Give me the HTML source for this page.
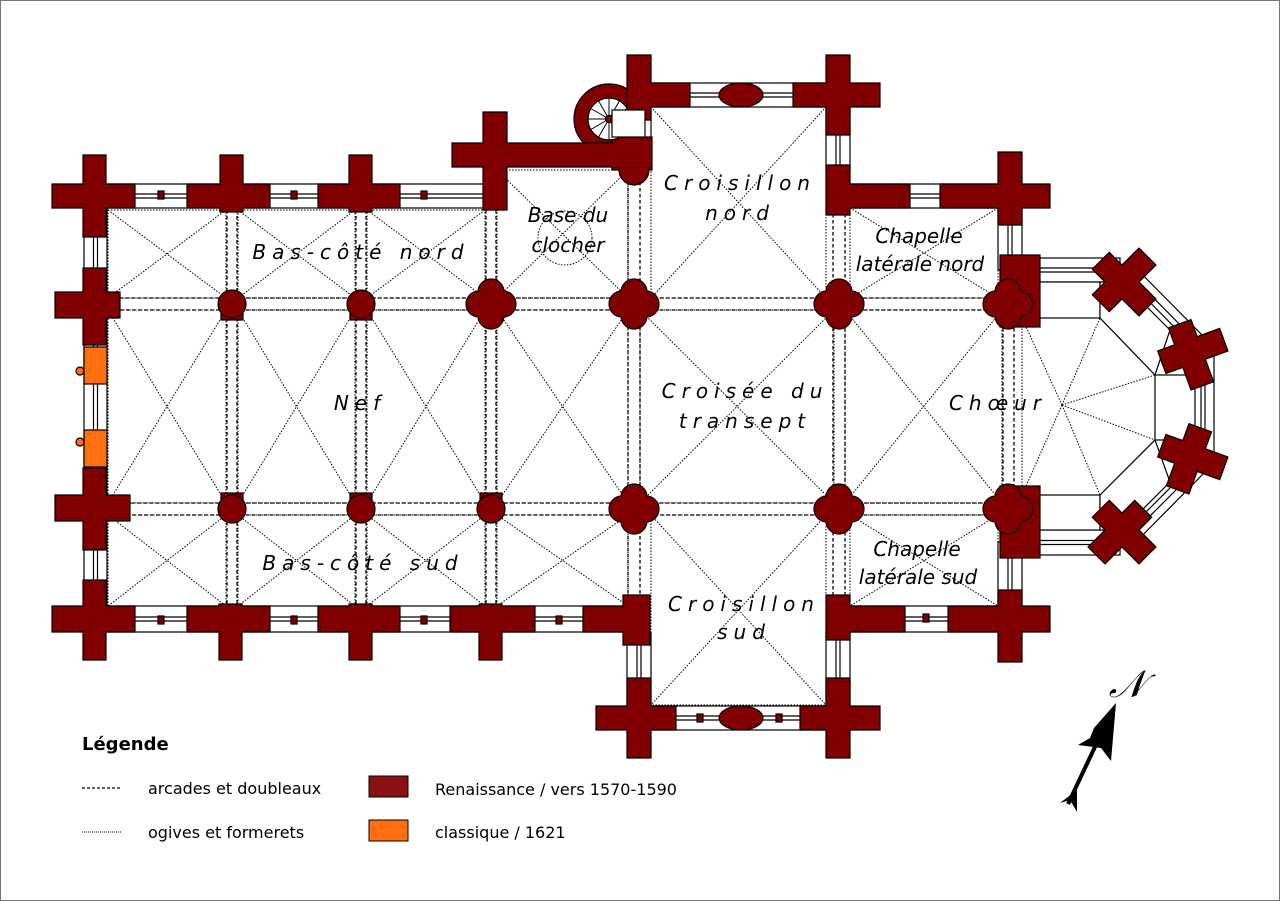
<!DOCTYPE html>
<html><head><meta charset="utf-8"><style>
html,body{margin:0;padding:0;background:#fff}
svg{display:block}
.lbl{font-family:"DejaVu Sans","Liberation Sans",sans-serif;font-style:italic;font-size:20px;fill:#000;text-anchor:middle}
.sp{letter-spacing:6px}
.lg{font-family:"DejaVu Sans","Liberation Sans",sans-serif;font-size:16px;fill:#000}
</style></head><body>
<svg id="s" width="1280" height="901" viewBox="0 0 1280 901" xmlns="http://www.w3.org/2000/svg">
<rect x="0.5" y="0.5" width="1279" height="900" fill="#fff" stroke="#777"/>
<g id="walls" fill="#fff" stroke="#000" stroke-width="1.2"></g>
<g id="vaults" fill="none" stroke="#000"></g>
<g id="piers" stroke="#000" stroke-width="1.2"></g>
<g id="extra"></g>
<g>
<text class="lbl sp" x="361" y="259">Bas-côté nord</text>
<text class="lbl sp" x="360" y="410">Nef</text>
<text class="lbl sp" x="363" y="570">Bas-côté sud</text>
<text class="lbl" x="568" y="222">Base du</text>
<text class="lbl" x="568" y="252">clocher</text>
<text class="lbl sp" x="740" y="190">Croisillon</text>
<text class="lbl sp" x="740" y="220">nord</text>
<text class="lbl" x="919" y="243">Chapelle</text>
<text class="lbl" x="920" y="271">latérale nord</text>
<text class="lbl sp" x="745" y="398">Croisée du</text>
<text class="lbl sp" x="745" y="428">transept</text>
<text class="lbl sp" x="998" y="410">Chœur</text>
<text class="lbl" x="917" y="556">Chapelle</text>
<text class="lbl" x="918" y="584">latérale sud</text>
<text class="lbl sp" x="744" y="611">Croisillon</text>
<text class="lbl sp" x="744" y="639">sud</text>
</g>
<g>
<text x="82" y="750" font-family="DejaVu Sans, Liberation Sans, sans-serif" font-weight="bold" font-size="18">Légende</text>
<line x1="82" y1="788" x2="121" y2="788" stroke="#000" stroke-width="1.2" stroke-dasharray="3 2"/>
<line x1="82" y1="832" x2="121" y2="832" stroke="#000" stroke-width="1" stroke-dasharray="1 1"/>
<text class="lg" x="148" y="794">arcades et doubleaux</text>
<text class="lg" x="148" y="838">ogives et formerets</text>
<rect x="369" y="776" width="39" height="21" fill="#8b1111" stroke="#000"/>
<rect x="369" y="820" width="39" height="21" fill="#ff6f0f" stroke="#000"/>
<text class="lg" x="435" y="795">Renaissance / vers 1570-1590</text>
<text class="lg" x="435" y="838">classique / 1621</text>
</g>
<g>
<text x="1127" y="697" font-family="Liberation Serif, serif" font-style="italic" font-size="38" text-anchor="middle">𝒩</text>
<line x1="1068" y1="804" x2="1110" y2="715" stroke="#000" stroke-width="4"/>
<polygon points="1116,703 1111,761 1101,748 1078,745 1090,738 1094,728" fill="#000"/>
<polygon points="1060,803 1077,790 1077,812 1070,800" fill="#000"/>
</g>
</svg>
<script>
var NS="http://www.w3.org/2000/svg";
function el(p,t,a){var e=document.createElementNS(NS,t);for(var k in a)e.setAttribute(k,a[k]);document.getElementById(p).appendChild(e);return e;}
var M="#800000";
function hband(x1,x2,y1,y2){el("walls","rect",{x:x1,y:y1,width:x2-x1,height:y2-y1});var m=(y1+y2)/2;el("walls","line",{x1:x1,x2:x2,y1:m-2,y2:m-2});el("walls","line",{x1:x1,x2:x2,y1:m+2,y2:m+2});}
function vband(x1,x2,y1,y2){el("walls","rect",{x:x1,y:y1,width:x2-x1,height:y2-y1});var m=(x1+x2)/2;el("walls","line",{x1:m-2,x2:m-2,y1:y1,y2:y2});el("walls","line",{x1:m+2,x2:m+2,y1:y1,y2:y2});}
hband(94,494,184,208);vband(84,107,195,620);hband(94,634,606,632);
vband(627,651,95,140);vband(826,850,95,170);hband(638,837,83,107);
vband(627,651,632,718);vband(826,850,632,718);hband(638,837,706,730);
hband(838,1010,184,208);vband(998,1022,195,270);
hband(838,1010,606,632);vband(998,1022,542,620);
hband(1010,1120,258,282);hband(1010,1120,530,555);
el("walls","polygon",{points:"1130,262 1205,338 1190,352 1115,277"});
el("walls","line",{x1:1124,y1:268,x2:1199,y2:344});el("walls","line",{x1:1120,y1:272,x2:1195,y2:348});
vband(1192,1214,350,460);
el("walls","polygon",{points:"1115,533 1190,458 1205,472 1130,548"});
el("walls","line",{x1:1120,y1:538,x2:1195,y2:463});el("walls","line",{x1:1124,y1:542,x2:1199,y2:467});
el("walls","rect",{x:1038,y:282,width:62,height:36});
el("walls","rect",{x:1038,y:495,width:62,height:35});
el("walls","polygon",{points:"1100,282 1122,282 1170,330 1155,375 1100,318"});
el("walls","polygon",{points:"1100,530 1122,530 1170,482 1155,440 1100,495"});
el("walls","rect",{x:1155,y:375,width:40,height:65});
var dot={"stroke-width":1,"stroke-dasharray":"1.5 1.5"};
var dash={"stroke-width":1.3,"stroke-dasharray":"3.5 2.5"};
function L(x1,y1,x2,y2,s){var a={x1:x1,y1:y1,x2:x2,y2:y2};for(var k in s)a[k]=s[k];el("vaults","line",a);}
function bay(x1,y1,x2,y2){L(x1,y1,x2,y2,dot);L(x2,y1,x1,y2,dot);el("vaults","rect",Object.assign({x:x1,y:y1,width:x2-x1,height:y2-y1},dot));}
var xs=[108,232,361,491,634];
for(var i=0;i<4;i++){var a=xs[i]+(i?6:0),b=xs[i+1]-6;bay(a,i==3?170:210,b,298);bay(a,310,b,503);bay(a,515,b,606);}
bay(651,107,826,298);bay(640,310,834,503);bay(651,515,826,705);
bay(850,208,998,298);bay(845,310,1002,503);bay(850,515,998,606);
el("vaults","circle",Object.assign({cx:565,cy:238,r:27},dot));
el("vaults","polygon",Object.assign({points:"1022,318 1100,318 1155,375 1155,440 1100,495 1022,495"},dot));
[[1022,318],[1100,318],[1155,375],[1155,440],[1100,495],[1022,495]].forEach(function(p){L(1062,405,p[0],p[1],dot);});
[298,310,503,515].forEach(function(y){L(108,y,1008,y,dash);});
[232,361,491].forEach(function(x){L(x-5,210,x-5,606,dash);L(x+5,210,x+5,606,dash);});
[628,640].forEach(function(x){L(x,170,x,606,dash);});
[833,845].forEach(function(x){L(x,208,x,606,dash);});
[1003,1014].forEach(function(x){L(x,298,x,515,dash);});
function cross(x1,x2,y1,y2,h1,h2,v1,v2,fill){var p=[x1,y1,x2,y1,x2,v1,h2,v1,h2,v2,x2,v2,x2,y2,x1,y2,x1,v2,h1,v2,h1,v1,x1,v1];var s="";for(var i=0;i<p.length;i+=2)s+=p[i]+","+p[i+1]+" ";el("piers","polygon",{points:s,fill:fill||M});}
var C=[[83,106,155,237,52,135,184,208],[220,243,155,212,187,270,184,208],[349,372,155,212,318,400,184,208],
[627,651,55,120,627,690,83,107],[826,850,55,135,793,880,83,107],[826,850,165,215,826,910,184,208],[998,1022,152,225,940,1050,184,208],
[83,106,268,345,55,120,292,318],[83,106,468,550,55,130,495,521],[83,106,580,660,52,135,606,632],[219,242,604,660,187,270,606,632],
[349,372,604,660,318,400,606,632],[479,502,604,660,450,535,606,632],[623,650,595,645,583,650,606,632],
[627,651,678,758,596,676,706,730],[826,850,678,758,800,880,706,730],[826,850,595,640,826,905,606,632],[998,1022,590,662,948,1050,606,632]];
el("piers","circle",{cx:609,cy:119,r:35,fill:M});
el("piers","rect",{x:612,y:137,width:40,height:33,fill:M});
el("piers","circle",{cx:634,cy:170,r:15,fill:M});
C.forEach(function(c){cross.apply(null,c);});
cross(483,507,112,210,452,650,143,167);
el("piers","rect",{x:613,y:140,width:38,height:27,fill:M,stroke:"none"});
el("piers","circle",{cx:609,cy:119,r:21,fill:"#fff"});
for(var k=0;k<12;k++){var an=k*Math.PI/6;el("piers","line",{x1:609,y1:119,x2:609+21*Math.cos(an),y2:119+21*Math.sin(an),"stroke-width":1});}
el("piers","circle",{cx:609,cy:119,r:3.5,fill:M});
el("piers","rect",{x:612,y:110,width:33,height:27,fill:"#fff"});
[[232,304],[361,304],[232,509],[361,509],[491,509]].forEach(function(p){el("piers","rect",{x:p[0]-11,y:p[1]+(p[1]<400?6:-16),width:22,height:10,fill:M});el("piers","circle",{cx:p[0],cy:p[1],r:14,fill:M});});
function qf(x,y,r,o){[[o,0],[-o,0],[0,o],[0,-o]].forEach(function(d){el("piers","circle",{cx:x+d[0],cy:y+d[1],r:r,fill:M});});[[o,0],[-o,0],[0,o],[0,-o]].forEach(function(d){el("piers","circle",{cx:x+d[0],cy:y+d[1],r:r-0.8,fill:M,stroke:"none"});});el("piers","rect",{x:x-o-1,y:y-o-1,width:2*o+2,height:2*o+2,fill:M,stroke:"none"});}
el("piers","rect",{x:1000,y:255,width:40,height:72,fill:M});
el("piers","rect",{x:1000,y:486,width:40,height:72,fill:M});
[[491,304],[634,304],[839,304],[1008,304],[634,509],[839,509],[1008,509]].forEach(function(p){qf(p[0],p[1],13,12);});
[[161,195],[294,195],[424,195],[161,620],[294,620],[424,620],[559,620],[700,718],[779,718],[926,618]].forEach(function(p){el("piers","rect",{x:p[0]-3,y:p[1]-4,width:6,height:8,fill:M});});
[[741,95],[741,718]].forEach(function(p){el("piers","ellipse",{cx:p[0],cy:p[1],rx:22,ry:12,fill:M});});
function rc(x,y,ang){var g=el("piers","g",{transform:"translate("+x+","+y+") rotate("+ang+")"});var s="-12,-36 12,-36 12,-12 36,-12 36,12 12,12 12,30 -12,30 -12,12 -30,12 -30,-12 -12,-12";var e=document.createElementNS(NS,"polygon");e.setAttribute("points",s);e.setAttribute("fill",M);g.appendChild(e);}
rc(1122,282,45);rc(1190,352,70);rc(1190,456,110);rc(1122,530,135);
var o="#ff6f0f";
el("piers","rect",{x:84,y:347,width:23,height:37,fill:o});
el("piers","rect",{x:84,y:430,width:23,height:37,fill:o});
el("piers","circle",{cx:80,cy:371,r:4,fill:o});
el("piers","circle",{cx:80,cy:442,r:4,fill:o});
</script>
</body></html>
